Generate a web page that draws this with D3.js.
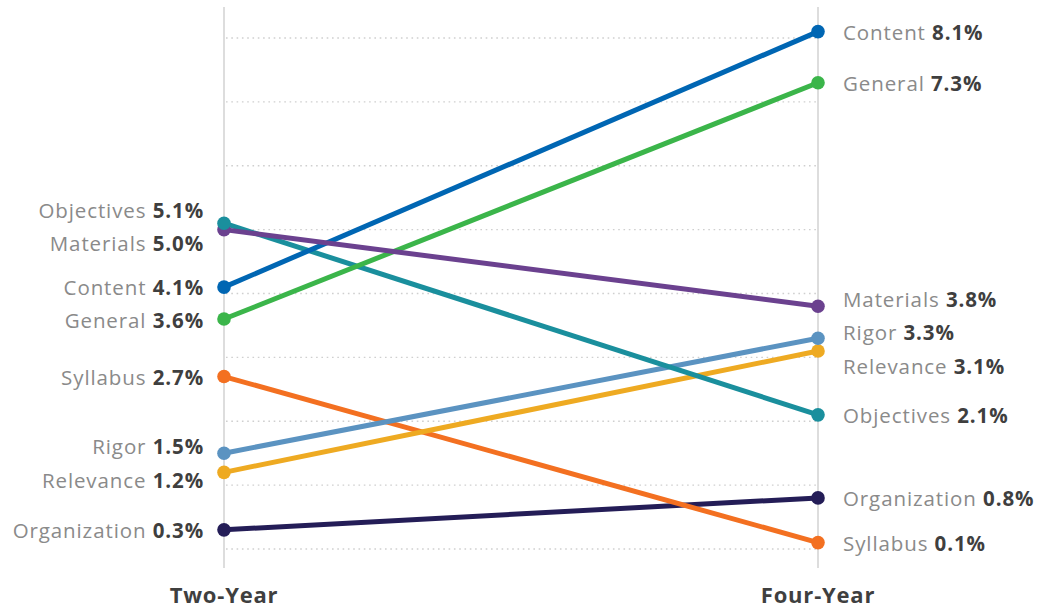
<!DOCTYPE html>
<html>
<head>
<meta charset="utf-8">
<script src="https://cdn.jsdelivr.net/npm/d3@7"></script>
<style>
  body { margin: 0; background: #fff; }
  svg { display: block; font-family: "Open Sans", "Lato", sans-serif; }
  .name { fill: #8a8a8a; }
  .val { fill: #3f3f3f; font-weight: bold; }
  .col-label { fill: #3f3f3f; font-weight: bold; font-size: 22px; letter-spacing: 0.8px; }
</style>
</head>
<body>
<div class="chart"></div>
<script>
// Slope chart: share of comments by category, two-year vs four-year

// categories in drawing order (later ones sit on top)
var categories = ["Organization", "Syllabus", "Relevance", "Rigor", "Objectives", "General", "Content", "Materials"];
var twoYear  = [0.3, 2.7, 1.2, 1.5, 5.1, 3.6, 4.1, 5.0];
var fourYear = [0.8, 0.1, 3.1, 3.3, 2.1, 7.3, 8.1, 3.8];
var columns = ["Two-Year", "Four-Year"];
var colors = ["#241d57", "#f37021", "#eeaa22", "#5b93c1", "#1a8f9d", "#3bb54a", "#0066b3", "#6b418f"];
var gridValues = [0, 1, 2, 3, 4, 5, 6, 7, 8];

var width = 1042,
    height = 612;

var x = d3.scalePoint()
    .domain(columns)
    .range([224, 818]);

var y = d3.scaleLinear()
    .domain([0, 8])
    .range([549, 38]);

var color = d3.scaleOrdinal()
    .domain(categories)
    .range(colors);

var svg = d3.select(".chart").append("svg")
    .attr("width", width)
    .attr("height", height);

// build rows from the arrays
var rows = categories.map(function (c, i) {
    return { name: c, values: [twoYear[i], fourYear[i]] };
});

// dotted gridlines between the two axes
svg.append("g").selectAll("line")
    .data(gridValues)
    .enter().append("line")
    .attr("x1", x(columns[0]) + 2)
    .attr("x2", x(columns[1]) - 2)
    .attr("y1", function (d) { return y(d); })
    .attr("y2", function (d) { return y(d); })
    .style("stroke", "#cfcfcf")
    .style("stroke-width", 1.3)
    .style("stroke-dasharray", "1.6,3.7");

// vertical axes
svg.append("g").selectAll("line")
    .data(columns)
    .enter().append("line")
    .attr("x1", function (d) { return x(d); })
    .attr("x2", function (d) { return x(d); })
    .attr("y1", 7)
    .attr("y2", 568)
    .style("stroke", "#d2d2d2")
    .style("stroke-width", 1.5);

// column titles
svg.append("g").selectAll("text")
    .data(columns)
    .enter().append("text")
    .attr("class", "col-label")
    .attr("x", function (d) { return x(d); })
    .attr("y", 595)
    .attr("dy", "0.35em")
    .style("text-anchor", "middle")
    .text(function (d) { return d; });

// slope lines
svg.append("g").selectAll("line")
    .data(rows)
    .enter().append("line")
    .attr("x1", x(columns[0]))
    .attr("x2", x(columns[1]))
    .attr("y1", function (d) { return y(d.values[0]); })
    .attr("y2", function (d) { return y(d.values[1]); })
    .style("stroke", function (d) { return color(d.name); })
    .style("stroke-width", 5);

// push label positions apart so they don't overlap
function spread(ys, gap) {
    var pos = ys.map(function (v, i) { return { i: i, y: v }; });
    pos.sort(function (a, b) { return a.y - b.y; });
    for (var k = 0; k < 300; k++) {
        for (var j = 1; j < pos.length; j++) {
            var d = pos[j].y - pos[j - 1].y;
            if (d < gap) {
                var push = (gap - d) / 2;
                pos[j - 1].y -= push;
                pos[j].y += push;
            }
        }
    }
    var out = [];
    pos.forEach(function (p) { out[p.i] = p.y; });
    return out;
}

columns.forEach(function (col, ci) {
    // dots, higher values drawn last
    var sorted = rows.slice().sort(function (a, b) { return a.values[ci] - b.values[ci]; });
    svg.append("g").selectAll("circle")
        .data(sorted)
        .enter().append("circle")
        .attr("cx", x(col))
        .attr("cy", function (d) { return y(d.values[ci]); })
        .attr("r", 6.8)
        .style("fill", function (d) { return color(d.name); });

    // labels
    var labelY = spread(rows.map(function (d) { return y(d.values[ci]); }), 33.5);
    var left = ci === 0;
    var t = svg.append("g").selectAll("text")
        .data(rows)
        .enter().append("text")
        .attr("x", left ? x(col) - 20 : x(col) + 25)
        .attr("y", function (d, i) { return labelY[i] + 1; })
        .attr("dy", "0.35em")
        .style("font-size", "20.5px")
        .style("letter-spacing", "0.9px")
        .style("text-anchor", left ? "end" : "start");
    t.append("tspan")
        .attr("class", "name")
        .text(function (d) { return d.name + " "; });
    t.append("tspan")
        .attr("class", "val")
        .text(function (d) { return d.values[ci].toFixed(1) + "%"; });
});
</script>
</body>
</html>
